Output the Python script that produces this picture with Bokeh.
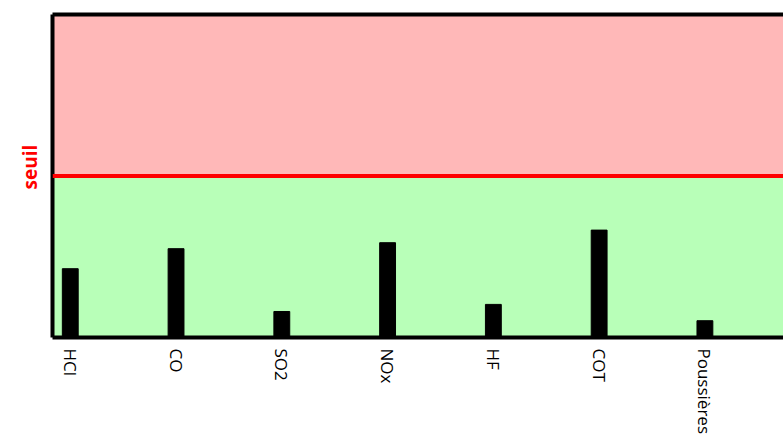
import math
from bokeh.plotting import figure
from bokeh.models import Range1d, FixedTicker, BoxAnnotation, Span, LinearAxis, Title
from bokeh.embed import file_html
from bokeh.resources import INLINE

# ---- data ----
categories = ["HCl", "CO", "SO2", "NOx", "HF", "COT", "Poussières"]
values = [42.6, 55.0, 16.1, 58.7, 20.5, 66.5, 10.4]
threshold = 100.0
threshold_label = "seuil"
y_max = 200.0

x_idx = list(range(len(categories)))
x_start, x_end = -0.168, 6.743

p = figure(width=783, height=437, output_backend="svg", toolbar_location=None,
           x_range=Range1d(x_start, x_end), y_range=Range1d(0, y_max),
           min_border_left=52, min_border_right=0, min_border_top=14, min_border_bottom=100,
           x_axis_location=None, y_axis_location=None)
p.outline_line_color = None
p.grid.visible = False
p.background_fill_color = "white"

# bands
p.add_layout(BoxAnnotation(bottom=threshold, fill_color="#ffb8b8", fill_alpha=1, line_color=None, level="underlay"))
p.add_layout(BoxAnnotation(top=threshold, fill_color="#b8ffb8", fill_alpha=1, line_color=None, level="underlay"))
p.add_layout(Span(location=threshold, dimension="width", line_color="#ff0000", line_width=4))

p.vbar(x=x_idx, top=values, width=0.15, bottom=0, fill_color="black", line_color="black")

# bottom axis
xa = LinearAxis(ticker=FixedTicker(ticks=x_idx),
                major_label_overrides={i: c for i, c in zip(x_idx, categories)})
xa.major_label_orientation = -math.pi / 2
xa.axis_line_width = 4
xa.axis_line_color = "black"
xa.major_tick_line_color = None
xa.minor_tick_line_color = None
xa.major_tick_out = 0
xa.major_label_standoff = 11
xa.major_label_text_font = "Open Sans"
xa.major_label_text_font_size = "17px"
xa.major_label_text_color = "black"
p.add_layout(xa, "below")

# left axis (line only)
ya = LinearAxis(ticker=FixedTicker(ticks=[]))
ya.axis_line_width = 4
ya.axis_line_color = "black"
ya.major_tick_line_color = None
ya.minor_tick_line_color = None
ya.major_tick_out = 0
ya.major_label_text_font_size = "0px"
p.add_layout(ya, "left")

# threshold label at the left, just above the threshold line
p.add_layout(Title(text=threshold_label, align="left", offset=148, standoff=20,
                   text_font="Open Sans", text_font_style="bold", text_font_size="19px",
                   text_color="#ff0000"), "left")

# top border
ta = LinearAxis(ticker=FixedTicker(ticks=[]))
ta.axis_line_width = 4
ta.axis_line_color = "black"
ta.major_tick_line_color = None
ta.minor_tick_line_color = None
ta.major_label_text_font_size = "0px"
ta.major_tick_out = 0
ta.major_label_standoff = 0
p.add_layout(ta, "above")

open("out.html", "w").write(file_html(p, INLINE))
